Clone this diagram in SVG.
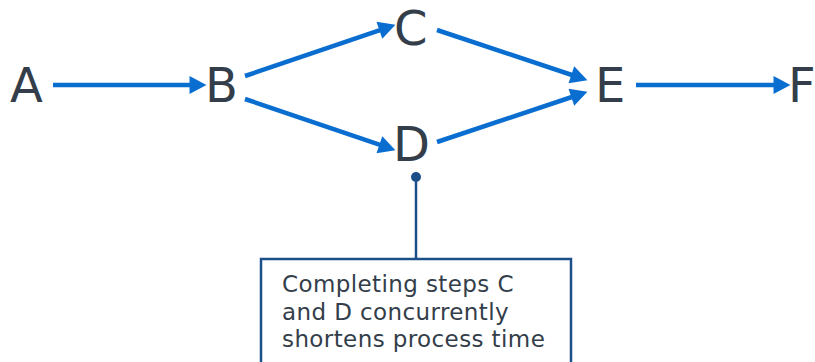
<svg xmlns="http://www.w3.org/2000/svg" width="815" height="362" viewBox="0 0 815 362">
<style>
.lbl{font-family:"DejaVu Sans","Verdana",sans-serif;font-size:48px;fill:#333e4a}
.note{font-family:"DejaVu Sans","Verdana",sans-serif;font-size:23px;letter-spacing:0.4px;fill:#333e4a}
.conn{stroke:#0a6ed1;stroke-width:4.5;fill:none;marker-end:url(#ah)}
.call{stroke:#1c4f88;stroke-width:2.5;fill:none}
</style>
<defs>
<marker id="ah" markerUnits="userSpaceOnUse" markerWidth="18" markerHeight="18" viewBox="0 0 16 17" refX="8" refY="8.5" orient="auto">
<path d="M0,0 L16,8.5 L0,17 z" fill="#0a6ed1"/>
</marker>
</defs>
<rect width="815" height="362" fill="#ffffff"/>
<g id="connectors">
<line class="conn" x1="53" y1="85" x2="198" y2="85"/>
<line class="conn" x1="245" y1="76" x2="387.4" y2="27.6"/>
<line class="conn" x1="245" y1="99" x2="387.4" y2="147.4"/>
<line class="conn" x1="437" y1="30" x2="579.4" y2="77.5"/>
<line class="conn" x1="437" y1="142" x2="579.4" y2="94.5"/>
<line class="conn" x1="636" y1="85" x2="782" y2="85"/>
</g>
<g id="nodeA"><text class="lbl" x="10" y="102">A</text></g>
<g id="nodeB"><text class="lbl" x="205" y="102">B</text></g>
<g id="nodeC"><text class="lbl" x="394" y="45">C</text></g>
<g id="nodeD"><text class="lbl" x="393" y="161">D</text></g>
<g id="nodeE"><text class="lbl" x="595" y="102">E</text></g>
<g id="nodeF"><text class="lbl" x="788" y="102">F</text></g>
<g id="callout">
<circle cx="416" cy="177" r="5" fill="#1c4f88"/>
<line class="call" x1="416" y1="177" x2="416" y2="259"/>
<rect class="call" x="261" y="259" width="310" height="130" fill="#ffffff"/>
<text class="note" x="282" y="292">Completing steps C</text>
<text class="note" x="282" y="319.5">and D concurrently</text>
<text class="note" x="282" y="347">shortens process time</text>
</g>
</svg>
